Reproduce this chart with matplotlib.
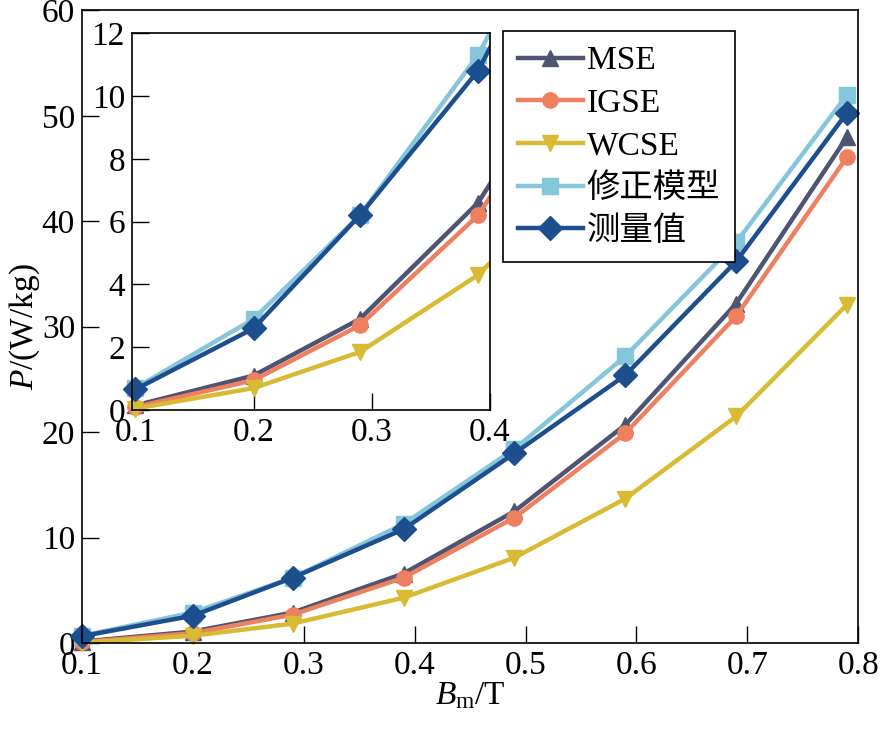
import matplotlib
matplotlib.use('Agg')
import matplotlib.pyplot as plt

# data
bm = [0.1, 0.2, 0.29, 0.39, 0.49, 0.59, 0.69, 0.79]
p_mse = [0.15, 1.1, 2.9, 6.6, 12.5, 20.7, 32.2, 48.0]
p_igse = [0.1, 0.95, 2.7, 6.2, 11.9, 19.9, 31.0, 46.1]
p_wcse = [0.05, 0.7, 1.85, 4.3, 8.1, 13.7, 21.5, 32.1]
p_mod = [0.7, 2.9, 6.2, 11.3, 18.4, 27.2, 38.0, 52.0]
p_meas = [0.66, 2.6, 6.2, 10.8, 18.0, 25.4, 36.2, 50.3]

labels = ['MSE', 'IGSE', 'WCSE', '修正模型', '测量值']
colors = ['#4f5472', '#ee8060', '#d8bb32', '#86c6da', '#1d4f8f']
markers = ['^', 'o', 'v', 's', 'D']
series = [p_mse, p_igse, p_wcse, p_mod, p_meas]

plt.rcParams['font.family'] = ['Liberation Serif', 'Noto Sans CJK SC']
plt.rcParams['mathtext.fontset'] = 'custom'
plt.rcParams['mathtext.rm'] = 'Liberation Serif'
plt.rcParams['mathtext.it'] = 'Liberation Serif:italic'
plt.rcParams['font.size'] = 24

fig = plt.figure(figsize=(8.85, 7.35), dpi=100)
ax = fig.add_axes([0.0927, 0.125, 0.877, 0.861])

for y, c, m, lab in zip(series, colors, markers, labels):
    ms = 11 if m == 'o' else 12
    ax.plot(bm, y, color=c, marker=m, markersize=ms, lw=3.2, label=lab, clip_on=False)

ax.set_xlim(0.1, 0.8)
ax.set_ylim(0, 60)
ax.set_xticks([0.1, 0.2, 0.3, 0.4, 0.5, 0.6, 0.7, 0.8])
ax.set_yticks([0, 10, 20, 30, 40, 50, 60])
ax.tick_params(direction='in', length=12, width=1, labelsize=24, pad=5)
ax.set_xlabel(r'$\mathit{B}_{\mathrm{m}}$/T', fontsize=24, labelpad=0)
ax.set_ylabel(r'$\mathit{P}$/(W/kg)', fontsize=24, labelpad=0)
for s in ax.spines.values():
    s.set_linewidth(1.2)

leg = ax.legend(loc='upper left', bbox_to_anchor=(0.568, 0.958),
                bbox_transform=fig.transFigure, fancybox=False,
                edgecolor='black', framealpha=1, handlelength=1.95,
                handletextpad=0.12, borderpad=0.45, labelspacing=0.36,
                borderaxespad=0, fontsize=24)
leg.get_frame().set_linewidth(1.2)

# inset
ins = fig.add_axes([0.149, 0.442, 0.4045, 0.513])
for y, c, m in zip(series, colors, markers):
    ms = 11 if m == 'o' else 12
    ins.plot(bm, y, color=c, lw=3.2)
    ins.plot(bm[:4], y[:4], color=c, lw=0, marker=m, markersize=ms, clip_on=False)
ins.set_xlim(0.097, 0.4)
ins.set_ylim(0, 12)
ins.set_xticks([0.1, 0.2, 0.3, 0.4])
ins.set_yticks([0, 2, 4, 6, 8, 10, 12])
ins.tick_params(direction='in', length=12, width=1, labelsize=24, pad=5)
for s in ins.spines.values():
    s.set_linewidth(1.2)

fig.savefig('out.png', dpi=100)
